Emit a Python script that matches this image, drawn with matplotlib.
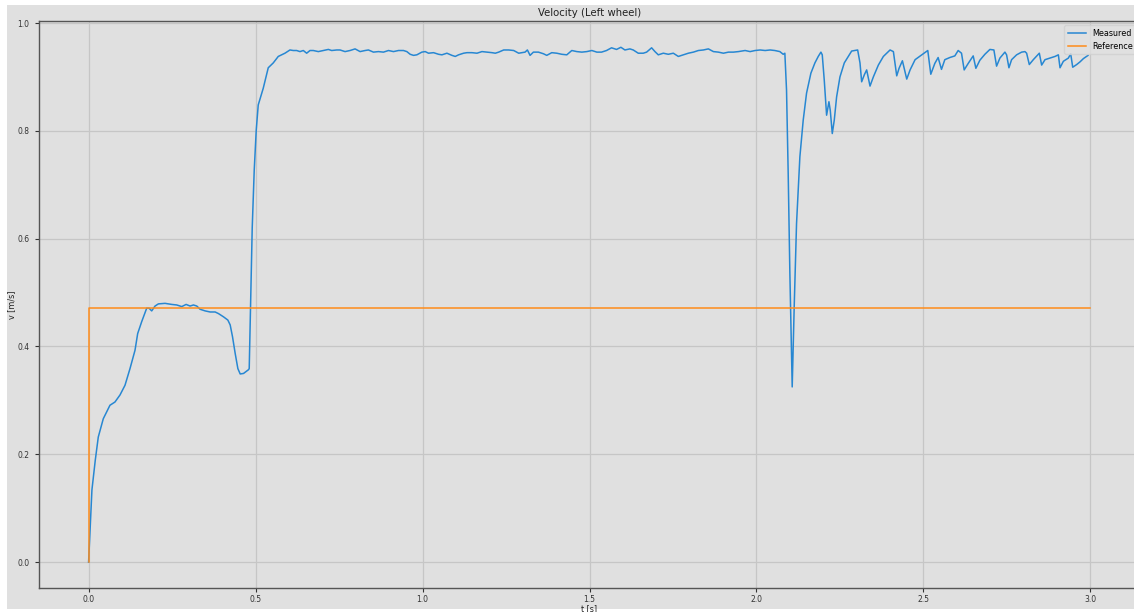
import matplotlib
matplotlib.use("Agg")
import matplotlib.pyplot as plt
from matplotlib.patches import Rectangle

# Measured wheel velocity [m/s] against time [s]
t_start = [0.000, 0.010, 0.020, 0.029, 0.044, 0.064, 0.079, 0.094, 0.109, 0.124,
           0.139, 0.147, 0.159, 0.174, 0.181, 0.189, 0.199, 0.209, 0.229, 0.249,
           0.264, 0.279, 0.292, 0.304, 0.314, 0.324, 0.334, 0.349, 0.364, 0.379,
           0.389, 0.404, 0.417, 0.424, 0.431, 0.439, 0.447, 0.454, 0.464, 0.479,
           0.481, 0.486, 0.490, 0.496, 0.502, 0.508, 0.523, 0.538, 0.553, 0.568,
           0.588]
v_start = [0.000, 0.134, 0.189, 0.232, 0.266, 0.291, 0.297, 0.310, 0.328, 0.359,
           0.393, 0.424, 0.446, 0.471, 0.471, 0.466, 0.475, 0.479, 0.480, 0.478,
           0.477, 0.474, 0.478, 0.475, 0.477, 0.475, 0.469, 0.466, 0.464, 0.464,
           0.461, 0.455, 0.449, 0.440, 0.418, 0.387, 0.359, 0.349, 0.350, 0.357,
           0.359, 0.505, 0.620, 0.727, 0.801, 0.848, 0.879, 0.917, 0.926, 0.938,
           0.944]

t_cruise = [0.603, 0.613, 0.623, 0.633, 0.643, 0.653, 0.663, 0.673, 0.688, 0.703,
            0.718, 0.728, 0.743, 0.753, 0.768, 0.783, 0.798, 0.813, 0.828, 0.838,
            0.853, 0.868, 0.883, 0.898, 0.913, 0.928, 0.943, 0.953, 0.963, 0.973,
            0.983, 0.998, 1.008, 1.018, 1.033, 1.048, 1.058, 1.073, 1.088, 1.098,
            1.108, 1.123, 1.133, 1.148, 1.163, 1.178, 1.193, 1.208, 1.218, 1.228,
            1.243, 1.258, 1.273, 1.288, 1.307, 1.314, 1.322, 1.332, 1.347, 1.362,
            1.372, 1.387, 1.402, 1.417, 1.432, 1.447, 1.462, 1.477, 1.492, 1.507,
            1.522, 1.536, 1.551, 1.566, 1.581, 1.594, 1.606, 1.621, 1.631, 1.646,
            1.661, 1.671, 1.686, 1.696, 1.706, 1.721, 1.736, 1.751, 1.766, 1.781,
            1.796, 1.811, 1.826, 1.841, 1.856, 1.871, 1.886, 1.901, 1.916, 1.931,
            1.946, 1.966, 1.981, 1.996, 2.011, 2.026, 2.041, 2.055, 2.070, 2.080,
            2.085]
v_cruise = [0.950, 0.949, 0.949, 0.947, 0.949, 0.944, 0.949, 0.949, 0.947, 0.949,
            0.951, 0.949, 0.950, 0.950, 0.947, 0.949, 0.952, 0.947, 0.949, 0.950,
            0.946, 0.947, 0.946, 0.949, 0.947, 0.949, 0.949, 0.947, 0.942, 0.940,
            0.941, 0.946, 0.947, 0.944, 0.945, 0.942, 0.941, 0.944, 0.940, 0.938,
            0.941, 0.944, 0.945, 0.945, 0.944, 0.947, 0.946, 0.945, 0.944, 0.946,
            0.950, 0.950, 0.949, 0.944, 0.946, 0.950, 0.940, 0.946, 0.946, 0.943,
            0.940, 0.945, 0.944, 0.942, 0.941, 0.949, 0.947, 0.946, 0.947, 0.949,
            0.946, 0.946, 0.949, 0.954, 0.951, 0.955, 0.950, 0.952, 0.950, 0.944,
            0.944, 0.946, 0.954, 0.947, 0.941, 0.944, 0.942, 0.944, 0.938, 0.941,
            0.944, 0.946, 0.949, 0.950, 0.952, 0.947, 0.946, 0.944, 0.946, 0.946,
            0.947, 0.949, 0.947, 0.949, 0.950, 0.949, 0.950, 0.949, 0.947, 0.942,
            0.944]

t_slip = [2.090, 2.095, 2.100, 2.107, 2.113, 2.120, 2.130, 2.140, 2.150, 2.163,
          2.175, 2.185, 2.193, 2.197, 2.203, 2.210, 2.217, 2.221, 2.227, 2.233,
          2.240, 2.250, 2.263, 2.275, 2.285, 2.303, 2.310, 2.315, 2.323, 2.330,
          2.340, 2.350, 2.365, 2.380, 2.400, 2.410, 2.420, 2.427, 2.437, 2.450,
          2.460, 2.475, 2.495, 2.513, 2.522, 2.534, 2.544, 2.554, 2.564, 2.579,
          2.594, 2.604, 2.614, 2.622, 2.634, 2.649, 2.657, 2.669, 2.684, 2.699,
          2.711, 2.719, 2.729, 2.744, 2.749, 2.756, 2.764, 2.779, 2.794, 2.804,
          2.809, 2.817, 2.829, 2.847, 2.854, 2.864, 2.879, 2.894, 2.904, 2.909,
          2.919, 2.934, 2.941, 2.947, 2.959, 2.969, 2.979, 2.993]
v_slip = [0.876, 0.721, 0.536, 0.325, 0.474, 0.628, 0.752, 0.820, 0.870, 0.907,
          0.926, 0.938, 0.946, 0.941, 0.894, 0.829, 0.854, 0.838, 0.795, 0.820,
          0.863, 0.900, 0.926, 0.938, 0.948, 0.950, 0.926, 0.891, 0.904, 0.913,
          0.883, 0.900, 0.922, 0.938, 0.950, 0.947, 0.902, 0.916, 0.930, 0.896,
          0.913, 0.932, 0.941, 0.949, 0.905, 0.925, 0.936, 0.914, 0.932, 0.936,
          0.939, 0.949, 0.944, 0.913, 0.925, 0.939, 0.916, 0.931, 0.942, 0.951,
          0.950, 0.920, 0.935, 0.946, 0.941, 0.917, 0.932, 0.941, 0.946, 0.947,
          0.944, 0.923, 0.932, 0.944, 0.922, 0.932, 0.935, 0.938, 0.941, 0.917,
          0.929, 0.935, 0.943, 0.918, 0.923, 0.928, 0.934, 0.940]

t_measured = t_start + t_cruise + t_slip
v_measured = v_start + v_cruise + v_slip

# Velocity set-point: step at t = 0
t_reference = [0.0, 0.0, 3.0]
v_reference = [0.0, 0.471, 0.471]

BG = "#e0e0e0"
fig = plt.figure(figsize=(11.34, 6.12), dpi=100, facecolor="white")
fig.patches.append(Rectangle((7 / 1134, 3 / 612), 1.0, 1 - 8 / 612,
                             transform=fig.transFigure, facecolor=BG,
                             edgecolor="none", zorder=-10))

ax = fig.add_axes([38.5 / 1134, 24 / 612, 1102 / 1134, 566.6 / 612])
ax.set_facecolor(BG)

ax.plot(t_measured, v_measured, color="#2787d2", lw=1.1, label="Measured")
ax.plot(t_reference, v_reference, color="#ff8c1a", lw=1.1, label="Reference")

ax.set_xlim(-0.15, 3.15)
ax.set_ylim(-0.048, 1.003)
ax.set_xticks([0.0, 0.5, 1.0, 1.5, 2.0, 2.5, 3.0])
ax.set_yticks([0.0, 0.2, 0.4, 0.6, 0.8, 1.0])

ax.grid(True, color="#c6c6c6", lw=0.9)
ax.set_axisbelow(True)
for side in ("left", "bottom", "top"):
    ax.spines[side].set_color("#555555")
    ax.spines[side].set_linewidth(1.0)
ax.spines["right"].set_visible(False)
ax.tick_params(labelsize=5.5, colors="#333333", length=3, width=0.8)
ax.tick_params(axis="x", pad=1.8)

ax.set_title("Velocity (Left wheel)", fontsize=7.3, color="#222222", pad=4)
ax.set_xlabel("t [s]", fontsize=5.8, color="#222222", labelpad=0)
ax.set_ylabel("v [m/s]", fontsize=5.8, color="#222222", labelpad=1)

leg = ax.legend(loc="upper right", fontsize=5.8, frameon=True,
                facecolor=BG, edgecolor="#d0d0d0", framealpha=0.8,
                borderaxespad=0.5, handlelength=2.3)

fig.savefig("out.png", dpi=100, facecolor=fig.get_facecolor())
